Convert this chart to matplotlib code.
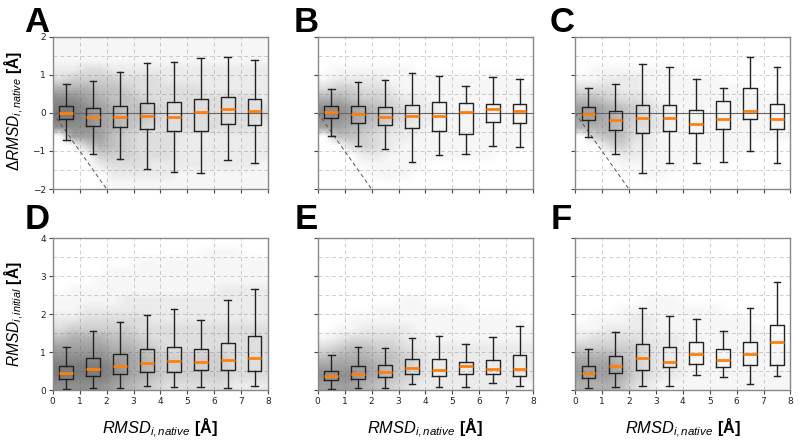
import numpy as np
import matplotlib
matplotlib.use('Agg')
import matplotlib.pyplot as plt

plt.rcParams['font.family'] = ['DejaVu Sans']
plt.rcParams['mathtext.fontset'] = 'custom'
plt.rcParams['mathtext.rm'] = 'Liberation Sans'
plt.rcParams['mathtext.it'] = 'Liberation Sans:italic'
plt.rcParams['mathtext.bf'] = 'Liberation Sans:bold'

# ---------------- data ----------------
bin_centers = [0.5, 1.5, 2.5, 3.5, 4.5, 5.5, 6.5, 7.5]

# Box statistics per panel: lower whisker, Q1, median, Q3, upper whisker
a_low = [-0.70, -1.07, -1.22, -1.47, -1.56, -1.58, -1.25, -1.33]
a_q1 = [-0.16, -0.35, -0.36, -0.43, -0.48, -0.47, -0.28, -0.33]
a_med = [0.00, -0.10, -0.10, -0.07, -0.10, 0.02, 0.11, 0.05]
a_q3 = [0.18, 0.14, 0.19, 0.27, 0.29, 0.37, 0.42, 0.37]
a_high = [0.75, 0.84, 1.06, 1.32, 1.33, 1.43, 1.47, 1.39]

b_low = [-0.60, -0.87, -0.94, -1.28, -1.12, -1.09, -0.88, -0.90]
b_q1 = [-0.13, -0.26, -0.32, -0.39, -0.47, -0.55, -0.24, -0.27]
b_med = [0.02, -0.04, -0.10, -0.09, -0.07, 0.02, 0.10, 0.04]
b_q3 = [0.17, 0.17, 0.15, 0.20, 0.28, 0.26, 0.23, 0.24]
b_high = [0.63, 0.81, 0.87, 1.04, 0.97, 0.71, 0.93, 0.88]

c_low = [-0.64, -1.08, -1.58, -1.32, -1.32, -1.30, -1.00, -1.33]
c_q1 = [-0.18, -0.44, -0.52, -0.48, -0.53, -0.42, -0.16, -0.42]
c_med = [-0.04, -0.20, -0.14, -0.13, -0.29, -0.16, 0.05, -0.16]
c_q3 = [0.15, 0.04, 0.20, 0.20, 0.08, 0.32, 0.66, 0.23]
c_high = [0.65, 0.77, 1.27, 1.20, 0.88, 0.64, 1.46, 1.20]

d_low = [0.02, 0.04, 0.04, 0.11, 0.08, 0.07, 0.04, 0.11]
d_q1 = [0.30, 0.36, 0.42, 0.47, 0.48, 0.54, 0.52, 0.49]
d_med = [0.44, 0.56, 0.64, 0.72, 0.77, 0.74, 0.80, 0.85]
d_q3 = [0.62, 0.84, 0.96, 1.09, 1.14, 1.09, 1.25, 1.43]
d_high = [1.13, 1.55, 1.78, 1.97, 2.13, 1.85, 2.36, 2.66]

e_low = [0.02, 0.06, 0.04, 0.15, 0.08, 0.08, 0.19, 0.11]
e_q1 = [0.26, 0.28, 0.34, 0.41, 0.36, 0.41, 0.41, 0.37]
e_med = [0.36, 0.43, 0.48, 0.59, 0.52, 0.62, 0.55, 0.56]
e_q3 = [0.51, 0.63, 0.65, 0.81, 0.81, 0.75, 0.80, 0.91]
e_high = [0.92, 1.13, 1.10, 1.37, 1.43, 1.22, 1.39, 1.68]

f_low = [0.04, 0.09, 0.11, 0.11, 0.40, 0.33, 0.16, 0.37]
f_q1 = [0.32, 0.44, 0.52, 0.60, 0.69, 0.61, 0.65, 0.66]
f_med = [0.46, 0.64, 0.84, 0.75, 0.96, 0.78, 0.94, 1.27]
f_q3 = [0.63, 0.90, 1.20, 1.14, 1.26, 1.07, 1.27, 1.71]
f_high = [1.07, 1.52, 2.15, 1.94, 1.88, 1.55, 2.15, 2.85]

# Density of the grey scatter cloud (0-9), rows from top to bottom in
# 0.25-unit steps, columns in 0.5-unit steps from x=0 to x=8
a_density = [
    "1111111111111111",
    "1111111111111111",
    "1111111111111111",
    "2233222222222222",
    "3444433322222222",
    "6665543333322222",
    "8876554333333332",
    "9987655433333333",
    "9987655433333333",
    "8887654333333332",
    "0777543332222222",
    "0046543332222222",
    "0004443332222222",
    "0002333222222221",
    "0000222221111111",
    "0000111111111111",
]
b_density = [
    "0000000000000000",
    "0000000000000000",
    "0000000000000000",
    "0111111000000000",
    "1222211111111110",
    "3443321111111111",
    "6654432211111111",
    "8876543221111111",
    "8876543221111111",
    "7765432211111111",
    "0554322111111111",
    "0034321111111110",
    "0002211111111000",
    "0001111100000000",
    "0000111000000000",
    "0000000000000000",
]
c_density = [
    "0000000000000000",
    "0000000000000000",
    "0000000000000000",
    "0111111100000000",
    "1122211111100000",
    "3332211111111000",
    "5543321111111111",
    "7765432111111111",
    "7765432111111111",
    "6665332111111111",
    "0455321111111111",
    "0034221111111000",
    "0002211111110000",
    "0001111100000000",
    "0000011000000000",
    "0000000000000000",
]
d_density = [
    "0000000000000000",
    "0000000000011100",
    "0000001111111111",
    "0000111111111111",
    "0001111111111111",
    "0111111111112222",
    "1111122222222222",
    "1122222222222222",
    "2233333222222222",
    "3444443333333333",
    "5666554333333333",
    "7777665433333333",
    "8888776544444333",
    "9999876544444333",
    "9999876544444333",
    "8888765433333222",
]
e_density = [
    "0000000000000000",
    "0000000000000000",
    "0000000000000000",
    "0000000000000000",
    "0000000000000000",
    "0000000000000000",
    "0000001100000000",
    "0000111111100000",
    "0011111111111110",
    "0112222111111111",
    "1233332211111111",
    "3455443222222222",
    "5666554322222222",
    "7777654322222222",
    "8887654322222222",
    "7776543222222221",
]
f_density = [
    "0000000000000000",
    "0000000000000000",
    "0000000000000000",
    "0000000000000000",
    "0000000000000000",
    "0000000000000000",
    "0000011100000000",
    "0001111111100000",
    "0111221111111000",
    "1122221111111100",
    "2333322211111110",
    "4444432211111111",
    "6665432211111111",
    "7776432211111111",
    "7776432211111111",
    "6665321111111111",
]

panel_letters = ['A', 'B', 'C', 'D', 'E', 'F']
top_ylabel = r'$ΔRMSD_{i,native}$ $\mathbf{[Å]}$'
bottom_ylabel = r'$RMSD_{i,initial}$ $\mathbf{[Å]}$'
xlabel = r'$RMSD_{i,native}$ $\mathbf{[Å]}$'
top_yticks = [-2, -1, 0, 1, 2]
bottom_yticks = [0, 1, 2, 3, 4]
xticks = [0, 1, 2, 3, 4, 5, 6, 7, 8]

panels = [
    (a_low, a_q1, a_med, a_q3, a_high, a_density),
    (b_low, b_q1, b_med, b_q3, b_high, b_density),
    (c_low, c_q1, c_med, c_q3, c_high, c_density),
    (d_low, d_q1, d_med, d_q3, d_high, d_density),
    (e_low, e_q1, e_med, e_q3, e_high, e_density),
    (f_low, f_q1, f_med, f_q3, f_high, f_density),
]

# ---------------- figure ----------------
W, H = 800, 444
fig = plt.figure(figsize=(W / 100, H / 100), dpi=100)

lefts_px = [52.7, 317.7, 575.0]
width_px = 215.5
rows_px = [(36.7, 189.0), (238.3, 390.0)]

cloud_grey = 0.42
letter_pos = [(24, 31.5), (294, 31.5), (550, 31.5),
              (25, 229), (295, 229), (551, 229)]

for i, (low, q1, med, q3, high, dens) in enumerate(panels):
    r, c = divmod(i, 3)
    top_px, bot_px = rows_px[r]
    ax = fig.add_axes([lefts_px[c] / W, 1 - bot_px / H,
                       width_px / W, (bot_px - top_px) / H])
    ylim = (-2, 2) if r == 0 else (0, 4)

    grid = np.array([[int(ch) for ch in row] for row in dens], dtype=float)
    rgba = np.zeros(grid.shape + (4,))
    rgba[..., :3] = cloud_grey
    rgba[..., 3] = 0.88 * (grid / 9.0) ** 1.25
    ax.imshow(rgba, extent=(0, 8, ylim[0], ylim[1]), origin='upper',
              interpolation='bilinear', aspect='auto', zorder=1)

    stats = [dict(whislo=lo, q1=a, med=m, q3=b, whishi=hi, fliers=[])
             for lo, a, m, b, hi in zip(low, q1, med, q3, high)]
    ax.bxp(stats, positions=bin_centers, widths=0.5, showfliers=False,
           boxprops=dict(color='#222222', lw=1.0),
           whiskerprops=dict(color='#222222', lw=1.0),
           capprops=dict(color='#222222', lw=1.0),
           medianprops=dict(color='#ff7f0e', lw=2.0),
           manage_ticks=False, zorder=3)

    if r == 0:
        ax.axhline(0, color='#666666', lw=0.8, zorder=2)
        ax.plot([0, 2], [0, -2], color='#555555', lw=0.7, ls=(0, (4, 3)),
                zorder=2)

    ax.set_xlim(0, 8)
    ax.set_ylim(*ylim)
    ax.set_xticks(xticks)
    ax.set_yticks(top_yticks if r == 0 else bottom_yticks)
    ax.set_yticks(np.arange(ylim[0], ylim[1] + 0.01, 0.5), minor=True)
    ax.grid(which='major', ls=(0, (4, 3)), color='#cfcfcf', lw=0.7)
    ax.grid(which='minor', axis='y', ls=(0, (4, 3)), color='#cfcfcf', lw=0.7)
    ax.set_axisbelow(True)
    ax.tick_params(which='major', labelsize=6.5, length=3, width=0.8,
                   color='#444444', labelcolor='#222222', pad=2)
    ax.tick_params(which='minor', length=0)
    for s in ax.spines.values():
        s.set_color('#888888')
        s.set_linewidth(1.0)

    if r == 0:
        ax.tick_params(labelbottom=False)
    else:
        ax.set_xlabel(xlabel, fontsize=11.8, labelpad=8)
    if c != 0:
        ax.tick_params(labelleft=False)
    else:
        ax.set_ylabel(top_ylabel if r == 0 else bottom_ylabel,
                      fontsize=11.2)
        ax.yaxis.set_label_coords(-0.125, 0.51 if r == 0 else 0.5)

    lx, ly = letter_pos[i]
    fig.text(lx / W, 1 - ly / H, panel_letters[i], fontsize=25,
             fontweight='bold', family='Liberation Sans', va='baseline',
             ha='left')

fig.savefig('out.png', dpi=100)
